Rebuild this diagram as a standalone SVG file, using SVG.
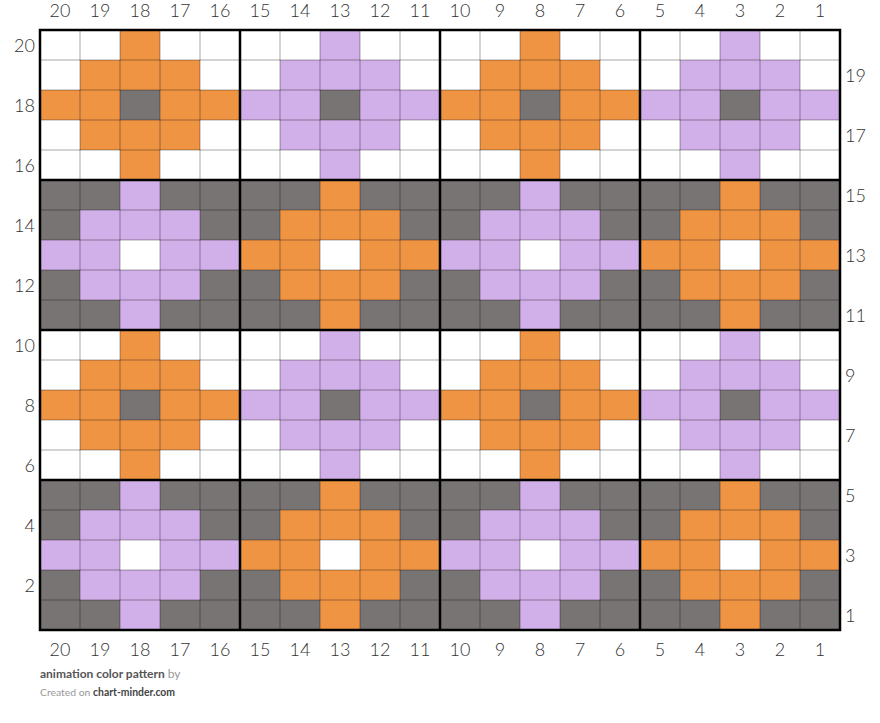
<svg xmlns="http://www.w3.org/2000/svg" xmlns:xlink="http://www.w3.org/1999/xlink" width="880" height="723" viewBox="0 0 880 723">
<style>
.o{fill:#EF9443}.p{fill:#D1AFE8}.g{fill:#797474}.w{fill:#fff}
.num{font-family:Lato,"Liberation Sans",sans-serif;font-weight:300;font-size:18px;fill:#333}
.thin{stroke:#000;stroke-opacity:0.35;stroke-width:1;fill:none}
.thick{stroke:#000;stroke-width:2.5;fill:none}
.f1{font-family:Lato,"Liberation Sans",sans-serif;font-size:12px}
.f2{font-family:Lato,"Liberation Sans",sans-serif;font-size:10.4px}
</style>
<defs>
<path id="cross" d="M80,0H120V30H160V60H200V90H160V120H120V150H80V120H40V90H0V60H40V30H80Z"/>
<g id="AO"><rect class="w" width="200" height="150"/><use xlink:href="#cross" class="o"/><rect class="g" x="80" y="60" width="40" height="30"/></g>
<g id="AP"><rect class="w" width="200" height="150"/><use xlink:href="#cross" class="p"/><rect class="g" x="80" y="60" width="40" height="30"/></g>
<g id="BO"><rect class="g" width="200" height="150"/><use xlink:href="#cross" class="o"/><rect class="w" x="80" y="60" width="40" height="30"/></g>
<g id="BP"><rect class="g" width="200" height="150"/><use xlink:href="#cross" class="p"/><rect class="w" x="80" y="60" width="40" height="30"/></g>
</defs>
<rect width="880" height="723" fill="#fff"/>
<g id="cells">
<use xlink:href="#AO" x="40" y="30"/><use xlink:href="#AP" x="240" y="30"/><use xlink:href="#AO" x="440" y="30"/><use xlink:href="#AP" x="640" y="30"/>
<use xlink:href="#BP" x="40" y="180"/><use xlink:href="#BO" x="240" y="180"/><use xlink:href="#BP" x="440" y="180"/><use xlink:href="#BO" x="640" y="180"/>
<use xlink:href="#AO" x="40" y="330"/><use xlink:href="#AP" x="240" y="330"/><use xlink:href="#AO" x="440" y="330"/><use xlink:href="#AP" x="640" y="330"/>
<use xlink:href="#BP" x="40" y="480"/><use xlink:href="#BO" x="240" y="480"/><use xlink:href="#BP" x="440" y="480"/><use xlink:href="#BO" x="640" y="480"/>
</g>
<g id="gridlines">
<path class="thin" d="M80,30V630M120,30V630M160,30V630M200,30V630M280,30V630M320,30V630M360,30V630M400,30V630M480,30V630M520,30V630M560,30V630M600,30V630M680,30V630M720,30V630M760,30V630M800,30V630
M40,60H840M40,90H840M40,120H840M40,150H840M40,210H840M40,240H840M40,270H840M40,300H840M40,360H840M40,390H840M40,420H840M40,450H840M40,510H840M40,540H840M40,570H840M40,600H840"/>
<path class="thick" d="M240,30V630M440,30V630M640,30V630M40,180H840M40,330H840M40,480H840"/>
<rect class="thick" x="40" y="30" width="800" height="600"/>
</g>
<g id="toplabels" class="num" text-anchor="middle">
<text x="60" y="17">20</text><text x="100" y="17">19</text><text x="140" y="17">18</text><text x="180" y="17">17</text><text x="220" y="17">16</text>
<text x="260" y="17">15</text><text x="300" y="17">14</text><text x="340" y="17">13</text><text x="380" y="17">12</text><text x="420" y="17">11</text>
<text x="460" y="17">10</text><text x="500" y="17">9</text><text x="540" y="17">8</text><text x="580" y="17">7</text><text x="620" y="17">6</text>
<text x="660" y="17">5</text><text x="700" y="17">4</text><text x="740" y="17">3</text><text x="780" y="17">2</text><text x="820" y="17">1</text>
</g>
<g id="bottomlabels" class="num" text-anchor="middle">
<text x="60" y="656">20</text><text x="100" y="656">19</text><text x="140" y="656">18</text><text x="180" y="656">17</text><text x="220" y="656">16</text>
<text x="260" y="656">15</text><text x="300" y="656">14</text><text x="340" y="656">13</text><text x="380" y="656">12</text><text x="420" y="656">11</text>
<text x="460" y="656">10</text><text x="500" y="656">9</text><text x="540" y="656">8</text><text x="580" y="656">7</text><text x="620" y="656">6</text>
<text x="660" y="656">5</text><text x="700" y="656">4</text><text x="740" y="656">3</text><text x="780" y="656">2</text><text x="820" y="656">1</text>
</g>
<g id="leftlabels" class="num" text-anchor="end">
<text x="35" y="51.5">20</text><text x="35" y="111.5">18</text><text x="35" y="171.5">16</text><text x="35" y="231.5">14</text><text x="35" y="291.5">12</text>
<text x="35" y="351.5">10</text><text x="35" y="411.5">8</text><text x="35" y="471.5">6</text><text x="35" y="531.5">4</text><text x="35" y="591.5">2</text>
</g>
<g id="rightlabels" class="num" text-anchor="start">
<text x="845" y="81.5">19</text><text x="845" y="141.5">17</text><text x="845" y="201.5">15</text><text x="845" y="261.5">13</text><text x="845" y="321.5">11</text>
<text x="845" y="381.5">9</text><text x="845" y="441.5">7</text><text x="845" y="501.5">5</text><text x="845" y="561.5">3</text><text x="845" y="621.5">1</text>
</g>
<g id="footer">
<text x="40" y="678" class="f1"><tspan font-weight="bold" fill="#555">animation color pattern</tspan><tspan fill="#999"> by</tspan></text>
<text x="40" y="696" class="f2"><tspan fill="#999">Created on </tspan><tspan font-weight="bold" fill="#444">chart-minder.com</tspan></text>
</g>
</svg>
